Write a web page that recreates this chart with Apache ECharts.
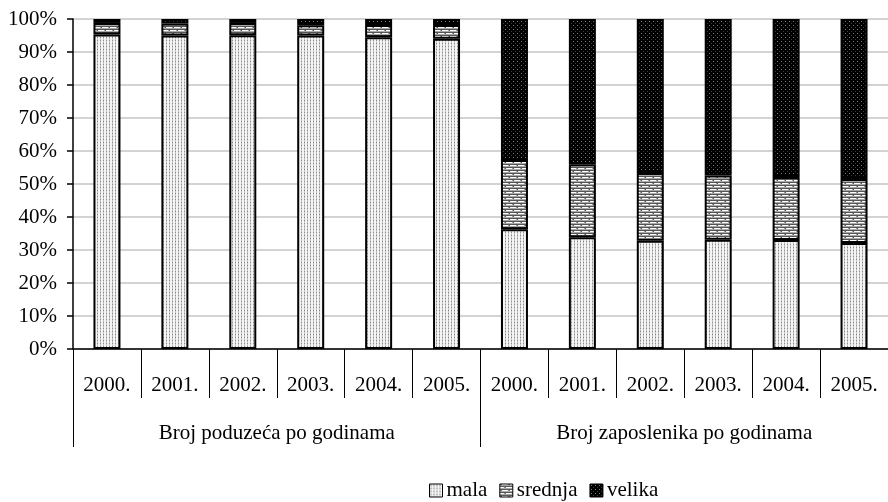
<!DOCTYPE html>
<html>
<head>
<meta charset="utf-8">
<script src="https://cdn.jsdelivr.net/npm/echarts@6/dist/echarts.min.js"></script>
<style>
html,body{margin:0;padding:0;background:#fff;}
#chart{width:888px;height:502px;}
</style>
</head>
<body>
<div id="chart"></div>
<script>
var years = ['2000.', '2001.', '2002.', '2003.', '2004.', '2005.', '2000.', '2001.', '2002.', '2003.', '2004.', '2005.'];
var groups = ['Broj poduzeća po godinama', 'Broj zaposlenika po godinama'];
var seriesNames = ['mala', 'srednja', 'velika'];
var mala = [95.3, 95.0, 95.1, 95.0, 94.5, 94.0, 36.3, 33.9, 32.8, 33.1, 33.0, 32.1];
var srednja = [3.5, 3.6, 3.7, 3.1, 3.7, 4.2, 21.0, 22.1, 20.5, 19.5, 19.1, 19.4];
var velika = [1.2, 1.4, 1.2, 1.9, 1.8, 1.8, 42.7, 44.0, 46.7, 47.4, 47.9, 48.5];
var yTicks = [0, 10, 20, 30, 40, 50, 60, 70, 80, 90, 100];

function makePattern(w, h, bg, draw) {
  var c = document.createElement('canvas');
  c.width = w; c.height = h;
  var ctx = c.getContext('2d');
  ctx.fillStyle = bg;
  ctx.fillRect(0, 0, w, h);
  draw(ctx);
  return { image: c, repeat: 'repeat' };
}
var patMala = makePattern(3, 3, '#f4f4f4', function (ctx) {
  ctx.fillStyle = '#8a8a8a';
  ctx.fillRect(1, 1, 1, 1);
  ctx.fillStyle = '#c4c4c4';
  ctx.fillRect(1, 0, 1, 1);
  ctx.fillRect(1, 2, 1, 1);
});
var patSrednja = makePattern(8, 6, '#ffffff', function (ctx) {
  ctx.fillStyle = '#555555';
  ctx.fillRect(0, 2, 8, 1);
  ctx.fillRect(0, 5, 8, 1);
  ctx.fillRect(1, 0, 1, 2);
  ctx.fillRect(5, 3, 1, 2);
  ctx.fillStyle = '#a8a8a8';
  ctx.fillRect(0, 0, 1, 2);
  ctx.fillRect(4, 3, 1, 2);
  ctx.fillRect(0, 1, 8, 1);
  ctx.fillRect(0, 4, 8, 1);
});
var patVelika = makePattern(4, 4, '#000000', function (ctx) {
  ctx.fillStyle = '#7a7a7a';
  ctx.fillRect(1, 1, 1, 1);
  ctx.fillStyle = '#3a3a3a';
  ctx.fillRect(3, 3, 1, 1);
});
var patterns = [patMala, patSrednja, patVelika];
var values = [mala, srednja, velika];

var font = 'Liberation Serif';
var chart = echarts.init(document.getElementById('chart'));
var series = seriesNames.map(function (name, i) {
  return {
    name: name,
    type: 'bar',
    stack: 'total',
    barWidth: 27,
    xAxisIndex: 0,
    data: values[i],
    itemStyle: { color: patterns[i], borderColor: '#000', borderWidth: 2 },
    emphasis: { disabled: true },
    animation: false
  };
});
chart.setOption({
  animation: false,
  grid: { left: 73, width: 821, top: 19, height: 330, containLabel: false },
  legend: {
    left: 424, top: 475,
    itemWidth: 13, itemHeight: 13, itemGap: 12,
    icon: 'rect',
    textStyle: { fontFamily: font, fontSize: 21, color: '#000', padding: [0, 0, 0, -1] },
    itemStyle: { borderColor: '#000', borderWidth: 1 },
    data: seriesNames
  },
  xAxis: [
    {
      type: 'category',
      data: years,
      position: 'bottom',
      axisLine: { show: true, lineStyle: { color: '#000', width: 1.5 } },
      axisTick: { show: true, alignWithLabel: false, inside: false, length: 49, lineStyle: { color: '#000', width: 1 } },
      axisLabel: { fontFamily: font, fontSize: 21, color: '#000', margin: 26, interval: 0 },
      splitLine: { show: false }
    },
    {
      type: 'category',
      data: groups,
      position: 'bottom',
      axisLine: { show: false },
      axisTick: { show: true, alignWithLabel: false, length: 98, lineStyle: { color: '#000', width: 1 } },
      axisLabel: { fontFamily: font, fontSize: 21, color: '#000', margin: 74, interval: 0 },
      splitLine: { show: false }
    }
  ],
  yAxis: {
    type: 'value',
    min: yTicks[0],
    max: yTicks[yTicks.length - 1],
    interval: 10,
    axisLine: { show: true, lineStyle: { color: '#000', width: 1.5 } },
    axisTick: { show: true, inside: false, length: 6, lineStyle: { color: '#000', width: 1.5 } },
    axisLabel: { fontFamily: font, fontSize: 21, color: '#000', margin: 16, formatter: '{value}%' },
    splitLine: { show: true, lineStyle: { color: '#c4c4c4', width: 1.5 } }
  },
  series: series
});
</script>
</body>
</html>
